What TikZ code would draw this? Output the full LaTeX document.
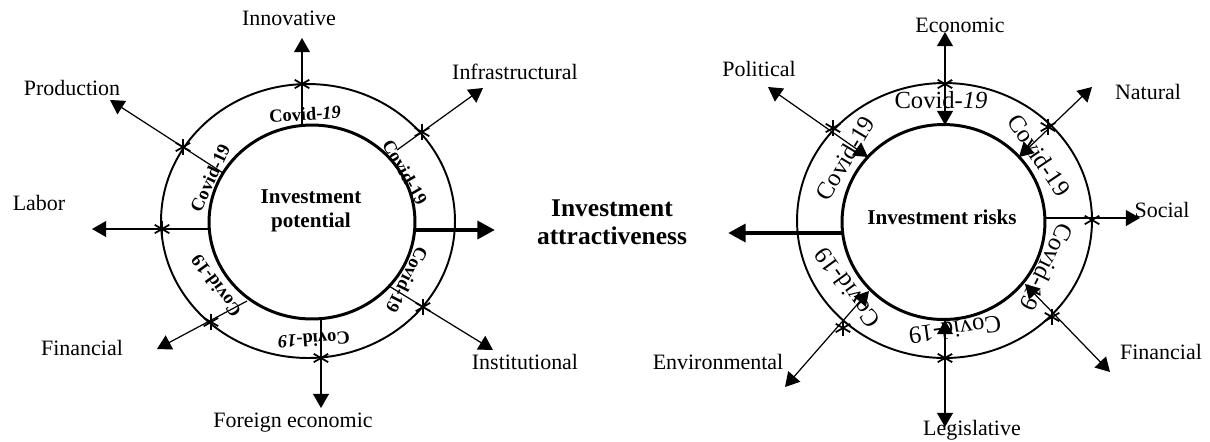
\documentclass[tikz,border=0pt]{standalone}
\usepackage{fontspec}
\setmainfont{Liberation Serif}
\usetikzlibrary{arrows.meta}

\begin{document}
\begin{tikzpicture}[x=0.02cm,y=-0.02cm,
	ringout/.style={line width=1.1pt},
	ringin/.style={line width=1.7pt},
	factorlabel/.style={font=\fontsize{12.5}{15}\selectfont,inner sep=0pt},
	centertext/.style={font=\fontsize{12}{13.6}\selectfont\bfseries,align=center,inner sep=0pt},
	covl/.style={font=\fontsize{10.5}{12}\selectfont\bfseries,inner sep=0pt},
	covr/.style={font=\fontsize{14}{16}\selectfont,inner sep=0pt},
	covstar/.style={circle,inner sep=0pt,minimum size=10pt,path picture={
		\foreach \ang in {90,30,150} \draw[line width=1pt] (path picture bounding box.center) +(\ang:4.8pt) -- +(\ang:-4.8pt);}},
	spoke/.style={line width=0.7pt,-{Triangle[length=8pt,width=9pt]}},
	twoway/.style={line width=0.7pt,{Triangle[length=8pt,width=9pt]}-{Triangle[length=8pt,width=9pt]}},
	bigarrow/.style={line width=2.8pt,-{Triangle[length=10pt,width=10pt]}}]

	\useasboundingbox (0,0) rectangle (1210,441);

	\draw[ringout] (308,221) ellipse [x radius=2.94cm, y radius=2.74cm];
	\draw[ringin] (312,222) ellipse [x radius=2.06cm, y radius=1.94cm];
	\draw[ringout] (944.5,220.5) ellipse [x radius=2.95cm, y radius=2.75cm];
	\draw[ringin] (943.5,222) ellipse [x radius=2.03cm, y radius=1.95cm];

	\node[centertext] (potential) at (311,211) {Investment\\potential};
	\node[centertext] (risks) at (942,217) {Investment risks};
	\node[centertext,font=\fontsize{14.5}{16}\selectfont\bfseries] (attract) at (612,222) {Investment\\attractiveness};

	\node[covl,rotate=3] (cl1) at (305,114) {Covid-\textit{19}};
	\node[covl,rotate=65] (cl2) at (210,178) {Covid-19};
	\node[covl,rotate=-60] (cl3) at (405,172) {Covid-19};
	\node[covl,rotate=-117] (cl4) at (407,280) {Covid-19};
	\node[covl,rotate=184] (cl5) at (314,340) {Covid-\textit{19}};
	\node[covl,rotate=126] (cl6) at (216,286) {Covid-19};

	\node[covr] (cr1) at (941,100) {Covid-\textit{19}};
	\node[covr,rotate=59] (cr2) at (845,158) {Covid-19};
	\node[covr,rotate=-56] (cr3) at (1039,155) {Covid-19};
	\node[covr,rotate=-116] (cr4) at (1047,267) {Covid-19};
	\node[covr,rotate=188] (cr5) at (955,330) {Covid-19};
	\node[covr,rotate=126] (cr6) at (847,288) {Covid-19};

	\coordinate (iInnov) at (302,125);
	\coordinate (tInnov) at (302,38);
	\coordinate (iInfra) at (397,150);
	\coordinate (tInfra) at (483,88);
	\coordinate (iProd) at (223,173);
	\coordinate (tProd) at (110,100);
	\coordinate (iLabor) at (209,229);
	\coordinate (tLabor) at (92,229);
	\coordinate (iFinL) at (247,301);
	\coordinate (tFinL) at (157,349);
	\coordinate (iForeign) at (321,319);
	\coordinate (tForeign) at (321,408);
	\coordinate (iInst) at (389,286);
	\coordinate (tInst) at (493,350);
	\coordinate (iPot) at (415,230);
	\coordinate (tPot) at (495,230);

	\node[covstar] (sInnov) at (302,84) {};
	\node[covstar] (sInfra) at (422,132) {};
	\node[covstar] (sProd) at (183,147) {};
	\node[covstar] (sLabor) at (162,229) {};
	\node[covstar] (sFinL) at (211,322) {};
	\node[covstar] (sForeign) at (321,358) {};
	\node[covstar] (sInst) at (423,307) {};

	\node[factorlabel] (lInnov) at (289,18) {Innovative};
	\node[factorlabel] (lInfra) at (515,72) {Infrastructural};
	\node[factorlabel] (lProd) at (72,88) {Production};
	\node[factorlabel] (lLabor) at (39,203) {Labor};
	\node[factorlabel] (lFinL) at (82,348) {Financial};
	\node[factorlabel] (lForeign) at (293,423) {Foreign economic};
	\node[factorlabel] (lInst) at (525,362) {Institutional};

	\coordinate (iEcon) at (945,125);
	\coordinate (tEcon) at (945,32);
	\coordinate (iPolit) at (868,157);
	\coordinate (tPolit) at (768,87);
	\coordinate (iNatur) at (1019,157);
	\coordinate (tNatur) at (1092,87);
	\coordinate (iSoc) at (1045,218);
	\coordinate (tSoc) at (1140,218);
	\coordinate (iFinR) at (1025,284);
	\coordinate (tFinR) at (1110,372);
	\coordinate (iLegis) at (945,320);
	\coordinate (tLegis) at (945,427);
	\coordinate (iEnvir) at (869,291);
	\coordinate (tEnvir) at (785,387);
	\coordinate (iRisk) at (842,233);
	\coordinate (tRisk) at (728,233);

	\node[covstar] (sEcon) at (945,84) {};
	\node[covstar] (sPolit) at (833,128) {};
	\node[covstar] (sNatur) at (1048,127) {};
	\node[covstar] (sSoc) at (1092,220) {};
	\node[covstar] (sFinR) at (1052,317) {};
	\node[covstar] (sLegis) at (945,358) {};
	\node[covstar] (sEnvir) at (843,328) {};

	\node[factorlabel] (lEcon) at (960,25) {Economic};
	\node[factorlabel] (lPolit) at (759,69) {Political};
	\node[factorlabel] (lNatur) at (1148,92) {Natural};
	\node[factorlabel] (lSoc) at (1162,210) {Social};
	\node[factorlabel] (lFinR) at (1161,352) {Financial};
	\node[factorlabel] (lLegis) at (972,430) {Legislative};
	\node[factorlabel] (lEnvir) at (718,362) {Environmental};

	\path[spoke] (iInnov) edge (tInnov);
	\path[spoke] (iInfra) edge (tInfra);
	\path[spoke] (iProd) edge (tProd);
	\path[spoke] (iLabor) edge (tLabor);
	\path[spoke] (iFinL) edge (tFinL);
	\path[spoke] (iForeign) edge (tForeign);
	\path[spoke] (iInst) edge (tInst);
	\path[bigarrow] (iPot) edge (tPot);

	\path[twoway] (iEcon) edge (tEcon);
	\path[twoway] (iPolit) edge (tPolit);
	\path[twoway] (iNatur) edge (tNatur);
	\path[spoke] (iSoc) edge (tSoc);
	\path[twoway] (iFinR) edge (tFinR);
	\path[twoway] (iLegis) edge (tLegis);
	\path[twoway] (iEnvir) edge (tEnvir);
	\path[bigarrow] (iRisk) edge (tRisk);

\end{tikzpicture}
\end{document}
